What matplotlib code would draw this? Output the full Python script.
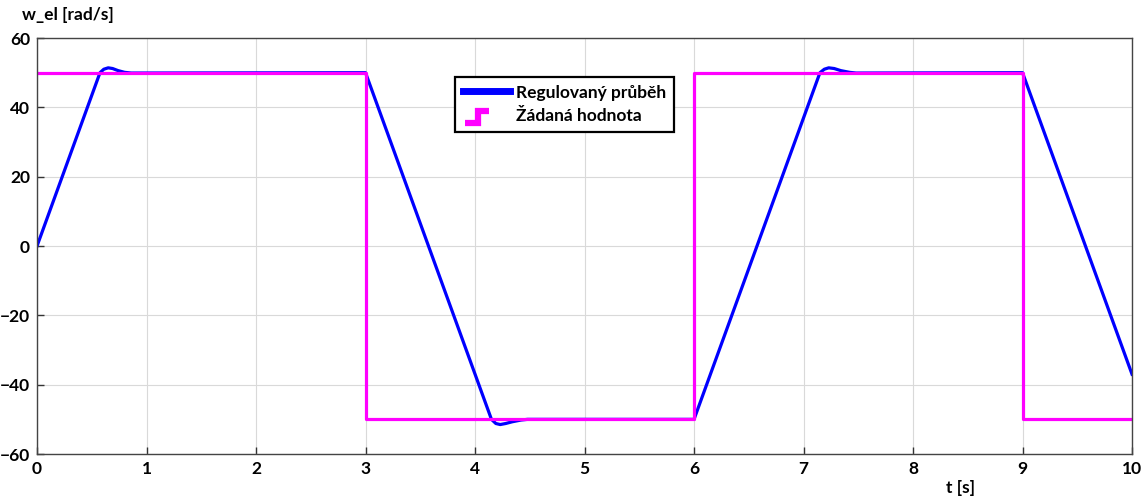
import numpy as np
import matplotlib.pyplot as plt
from matplotlib.lines import Line2D
from matplotlib.legend_handler import HandlerBase

plt.rcParams['font.family'] = ['Lato', 'DejaVu Sans']

# measured speed (blue)
t_reg = [0.0, 0.575, 0.61, 0.65, 0.69, 0.74, 0.80, 0.86,
         3.0, 4.15, 4.19, 4.23, 4.28, 4.34, 4.42, 4.48,
         6.0, 7.15, 7.19, 7.23, 7.28, 7.34, 7.42, 7.48,
         9.0, 10.0]
w_reg = [0.0, 50.0, 51.0, 51.4, 51.2, 50.6, 50.1, 49.9,
         50.0, -50.0, -51.2, -51.5, -51.2, -50.7, -50.2, -50.0,
         -50.0, 50.0, 51.0, 51.4, 51.2, 50.6, 50.1, 49.9,
         50.0, -37.0]

# reference (magenta)
t_ref = [0, 3, 6, 9, 10]
w_ref = [50, -50, 50, -50, -50]


class StepHandler(HandlerBase):
    def create_artists(self, legend, orig, xd, yd, w, h, fontsize, trans):
        xs = [xd + 0.05 * w, xd + 0.32 * w, xd + 0.32 * w, xd + 0.55 * w]
        ys = [yd - 0.15 * h, yd - 0.15 * h, yd + 0.85 * h, yd + 0.85 * h]
        ln = Line2D(xs, ys, color=orig.get_color(), lw=4.5,
                    solid_joinstyle='miter', solid_capstyle='butt',
                    transform=trans)
        return [ln]


fig = plt.figure(figsize=(11.43, 4.97), dpi=100)
ax = fig.add_axes([0.0324, 0.0865, 0.958, 0.837])

ax.plot(t_reg, w_reg, color='#0000ff', lw=2.3, label='Regulovaný průběh')
ref_line, = ax.step(t_ref, w_ref, where='post', color='#ff00ff', lw=2.3,
                    label='Žádaná hodnota')

ax.set_xlim(0, 10)
ax.set_ylim(-60, 60)
ax.set_xticks(range(0, 11))
ax.set_yticks(range(-60, 61, 20))
ax.grid(True, color='#d9d9d9', lw=0.8)
ax.tick_params(direction='in', length=5, width=1, color='#333333',
               labelsize=12.5, pad=5)
for lab in ax.get_xticklabels() + ax.get_yticklabels():
    lab.set_fontweight('bold')
for s in ax.spines.values():
    s.set_color('#444444')
    s.set_linewidth(1)

fig.text(0.019, 0.960, 'w_el [rad/s]', fontsize=12.5, fontweight='bold')
fig.text(0.828, 0.008, 't [s]', fontsize=12.5, fontweight='bold')

leg = ax.legend(loc='upper left', bbox_to_anchor=(0.382, 0.907),
                prop={'weight': 'bold', 'size': 12.5}, fancybox=False,
                framealpha=1, edgecolor='black', borderpad=0.45,
                borderaxespad=0, handlelength=2.7, handletextpad=0.35,
                labelspacing=0.45, handler_map={ref_line: StepHandler()})
leg.get_frame().set_linewidth(1.6)
leg.get_lines()[0].set_linewidth(5)

fig.savefig('out.png', dpi=100)
